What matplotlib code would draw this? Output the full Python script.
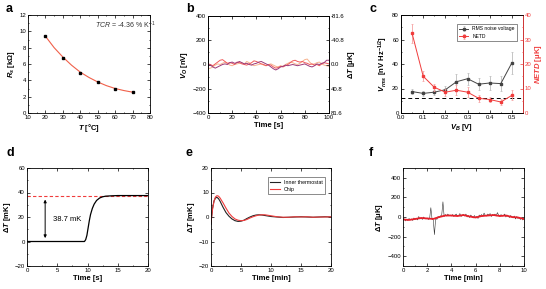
'''
six panel sensor characterisation figure
'''

import numpy as np
import matplotlib.pyplot as plt
from matplotlib.ticker import AutoMinorLocator

plt.rcParams['font.family'] = ['Liberation Sans', 'DejaVu Sans']
plt.rcParams['mathtext.fontset'] = 'custom'
plt.rcParams['mathtext.rm'] = 'Liberation Sans'
plt.rcParams['mathtext.it'] = 'Liberation Sans:italic'
plt.rcParams['mathtext.bf'] = 'Liberation Sans:bold'
plt.rcParams['mathtext.bfit'] = 'Liberation Sans:italic:bold'
plt.rcParams['axes.linewidth'] = 0.6

# a: sheet resistance vs temperature
temp_c = [20, 30, 40, 50, 60, 70]
r_s = [9.4, 6.75, 4.95, 3.8, 3.0, 2.55]
temp_fit = [20, 25, 30, 35, 40, 45, 50, 55, 60, 65, 70]
r_fit = [9.4, 8.0, 6.85, 5.85, 5.0, 4.35, 3.8, 3.35, 3.0, 2.75, 2.55]

# b: output voltage noise, three runs
time_b = np.arange(0, 101, 2)
vo_purple = [0, -5, -20, -30, -20, -10, 0, 5, 0, 15, 20, 10, 15, 25, 15, 5, 10, 0, -5, 5,
             10, 20, 25, 15, 5, -5, -20, -35, -45, -35, -20, -15, -5, -10, -5, 0, -5, -10,
             -5, 0, 5, -5, -15, -20, -10, 5, 0, 10, 15, 35, 35]
vo_red = [5, 0, -10, 5, 20, 35, 40, 25, 10, 15, 10, 0, 20, 15, 5, 0, -5, 5, 15, 30,
          25, 15, 5, 0, -10, 0, -5, -20, -30, -25, -15, -20, -10, 0, 15, 30, 35, 25,
          20, 25, 15, 10, 0, 5, -5, 0, -10, 5, 15, 10, 5]
vo_orange = [-35, -30, -20, -5, 5, 0, 10, 20, 10, -5, -10, 0, 5, 10, 15, 5, 25, 15, 0, -10,
             -5, 0, 5, -5, -10, 0, 5, -5, -15, -20, -10, -15, 0, 10, 20, 15, 5, 0,
             10, 25, 40, 45, 20, 0, 5, 15, 20, 5, -5, -10, -15]

# c: noise voltage and NETD vs bias
v_bias = [0.05, 0.1, 0.15, 0.2, 0.25, 0.3, 0.35, 0.4, 0.45, 0.5]
v_rms = [17.5, 16, 17, 19, 25.5, 28, 23.5, 24.5, 24, 41]
v_rms_err = [2, 2, 2, 3, 6, 5, 5, 6, 6, 9]
netd = [32.5, 15, 10.5, 8.5, 9.3, 8.5, 6, 5.5, 4.5, 7.2]
netd_err = [4, 2, 1.5, 1.5, 2, 2, 1.5, 1.2, 1.2, 2]
noise_floor = 12.5

# d: step response
time_d = [0, 9.5, 9.7, 9.9, 10.1, 10.3, 10.5, 10.8, 11.1, 11.5, 12, 12.5, 13, 14, 15, 20]
dt_d = [0, 0, 1.5, 5, 11, 17, 22, 27, 30.5, 33.5, 35.5, 36.5, 37, 37.3, 37.5, 37.5]
step_level = 37.5

# e: thermostat vs chip
time_e = [0, 0.1, 0.25, 0.5, 0.75, 1.0, 1.25, 1.5, 2, 2.5, 3, 3.5, 4, 4.5, 5, 5.5, 6, 6.5,
          7, 7.5, 8, 8.5, 9, 9.5, 10, 10.5, 11, 12, 13, 14, 15, 16, 17, 18, 19, 20]
dt_thermostat = [-3, 0, 3.5, 6.5, 7.8, 8.0, 7.5, 6.5, 4.0, 1.8, 0.3, -0.8, -1.5, -1.8, -1.7,
                 -1.3, -0.6, 0.0, 0.5, 0.8, 0.9, 0.8, 0.6, 0.4, 0.2, 0.1, 0.0, -0.2, -0.1,
                 0, 0.1, 0, -0.1, 0, 0.1, 0]
dt_chip = [-2, 0, 3, 6.5, 8.2, 8.7, 8.5, 7.8, 5.8, 3.6, 1.6, 0.2, -0.8, -1.3, -1.5, -1.4,
           -1.0, -0.4, 0.1, 0.5, 0.8, 0.9, 0.9, 0.7, 0.5, 0.3, 0.1, -0.1, -0.1, 0.1, 0,
           0.1, -0.1, 0, 0, 0.1]

# f: temperature stability
time_f = np.arange(0, 10.05, 0.1)
dt_raw = [-30, -20, -40, -25, -35, -15, -30, -20, -35, -10, -25,
          -15, -30, 5, -20, -10, -25, 0, -15, -20, -10,
          -25, -15, 95, -20, -30, -180, -10, -25, 5, -5,
          10, 20, 155, 5, 25, 10, 30, 15, 20, 10,
          25, 5, 20, 30, 10, 15, 35, 5, 20, 25,
          10, 30, 0, 15, -5, 20, 5, -10, 15, -5,
          5, -15, 20, 10, 25, 5, 40, 15, 10, 30,
          20, 35, 5, 25, 15, 30, 10, 45, 20, 5,
          25, 10, 15, 30, 0, 20, 10, -5, 15, 0,
          -10, 10, -20, 5, -15, -5, -25, -10, -30, -20]
time_f_smooth = np.arange(0, 10.05, 0.5)
dt_smooth = [-25, -30, -20, -10, -15, -20, 0, 15, 15, 10, 20, 5, -5, 10, 15, 20, 10, 15,
             0, -5, -20]

W, H = 546, 289
fig = plt.figure(figsize=(W / 100, H / 100), dpi=100)


def box(x0, x1, y0, y1):
    return fig.add_axes([x0 / W, 1 - y1 / H, (x1 - x0) / W, (y1 - y0) / H])


def style(ax, right=True):
    ax.xaxis.set_minor_locator(AutoMinorLocator(2))
    ax.yaxis.set_minor_locator(AutoMinorLocator(2))
    ax.tick_params(which='both', direction='in', top=True, right=right,
                   width=0.5, labelsize=4.3, pad=1.5)
    ax.tick_params(which='major', length=2)
    ax.tick_params(which='minor', length=1)


lab = dict(fontsize=5.5, fontweight='bold', labelpad=1.5)

for s, x, y in [('a', 6, 12), ('b', 186, 12), ('c', 369, 12),
                ('d', 6, 156), ('e', 186, 156), ('f', 369, 156)]:
    fig.text(x / W, 1 - y / H, s, fontsize=9, fontweight='bold')

# a
ax = box(28, 150, 15, 113)
ax.plot(temp_fit, r_fit, color='#f0604a', lw=0.8)
ax.plot(temp_c, r_s, 's', color='black', ms=1.8)
ax.set_xlim(10, 80)
ax.set_ylim(0, 12)
ax.set_xticks(range(10, 81, 10))
ax.set_yticks(range(0, 13, 2))
style(ax)
ax.set_xlabel(r'$\mathbfit{T}$ [°C]', **lab)
ax.set_ylabel(r'$\mathbfit{R_s}$ [kΩ]', **lab)
ax.text(0.55, 0.86, r'$TCR$ = -4.36 % K$^{-1}$', transform=ax.transAxes,
        fontsize=5, color='#333333')

# b
ax = box(208, 329, 16, 113)
ax.plot(time_b, vo_orange, color='#f7b38f', lw=0.7)
ax.plot(time_b, vo_red, color='#f05a5a', lw=0.7)
ax.plot(time_b, vo_purple, color='#9b3a7a', lw=0.7)
ax.set_xlim(0, 100)
ax.set_ylim(-400, 400)
ax.set_xticks(range(0, 101, 20))
ax.set_yticks(range(-400, 401, 200))
style(ax, right=False)
ax.set_xlabel('Time [s]', **lab)
ax.set_ylabel(r'$\mathbfit{V_O}$ [nV]', **lab)
ax2 = ax.twinx()
ax2.set_ylim(81.6, -81.6)
ax2.set_yticks([-81.6, -40.8, 0.0, 40.8, 81.6])
ax2.set_yticklabels(['-81.6', '-40.8', '0.0', '40.8', '81.6'])
ax2.yaxis.set_minor_locator(AutoMinorLocator(2))
ax2.tick_params(which='both', direction='in', width=0.5, labelsize=4.3, pad=1.5)
ax2.tick_params(which='major', length=2)
ax2.tick_params(which='minor', length=1)
ax2.set_ylabel('Δ$\\mathbfit{T}$ [μK]', fontsize=5.5, fontweight='bold', labelpad=1)

# c
ax = box(401, 523, 15, 113)
ax.axhline(noise_floor, color='black', ls=(0, (4, 3)), lw=0.7)
ax.errorbar(v_bias, v_rms, yerr=v_rms_err, color='#444444', ecolor='#bbbbbb',
            elinewidth=0.6, capsize=1, capthick=0.5, marker='s', ms=1.6, lw=0.7,
            label='RMS noise voltage')
ax.set_xlim(0, 0.55)
ax.set_ylim(0, 80)
ax.set_xticks(np.arange(0, 0.51, 0.1))
ax.set_xticklabels(['0.0', '0.1', '0.2', '0.3', '0.4', '0.5'])
ax.set_yticks(range(0, 81, 20))
style(ax, right=False)
ax.set_xlabel(r'$\mathbfit{V_B}$ [V]', **lab)
ax.set_ylabel(r'$\mathbfit{V_{rms}}$ [nV Hz$^{\mathbf{-1/2}}$]', **lab)
ax2 = ax.twinx()
ax2.errorbar(v_bias, netd, yerr=netd_err, color='#f03c3c', ecolor='#f5a0a0',
             elinewidth=0.6, capsize=1, capthick=0.5, marker='s', ms=1.6, lw=0.7,
             label='NETD')
ax2.set_ylim(0, 40)
ax2.set_yticks(range(0, 41, 10))
ax2.yaxis.set_minor_locator(AutoMinorLocator(2))
ax2.tick_params(which='both', direction='in', width=0.5, labelsize=4.3, pad=1,
                colors='#f03c3c')
ax2.tick_params(which='major', length=2)
ax2.tick_params(which='minor', length=1)
ax2.spines['right'].set_color('#f03c3c')
ax2.set_ylabel(r'$\mathbfit{NETD}$ [μK]', color='#f03c3c', fontsize=5.5,
               fontweight='bold', labelpad=1)
h1, l1 = ax.get_legend_handles_labels()
h2, l2 = ax2.get_legend_handles_labels()
leg = ax2.legend(h1 + h2, l1 + l2, loc='upper right', fontsize=3.6, frameon=True,
                 fancybox=False, edgecolor='black', borderpad=0.4, handlelength=1.8,
                 bbox_to_anchor=(0.97, 0.93))
leg.get_frame().set_linewidth(0.4)

# d
ax = box(27, 148, 168, 266)
ax.axhline(step_level, color='#f03c3c', ls=(0, (3, 2)), lw=0.8)
ax.plot(time_d, dt_d, color='black', lw=0.9)
ax.annotate('', xy=(3, 36.5), xytext=(3, 0.5),
            arrowprops=dict(arrowstyle='<|-|>', color='black', lw=0.7,
                            mutation_scale=4))
ax.text(4.3, 17, '38.7 mK', fontsize=5.5)
ax.set_xlim(0, 20)
ax.set_ylim(-20, 60)
ax.set_xticks(range(0, 21, 5))
ax.set_yticks(range(-20, 61, 20))
style(ax)
ax.set_xlabel('Time [s]', **lab)
ax.set_ylabel('Δ$\\mathbfit{T}$ [mK]', **lab)

# e
ax = box(211, 331, 168, 266)
ax.plot(time_e, dt_thermostat, color='#222222', lw=0.8, label='Inner thermostat')
ax.plot(time_e, dt_chip, color='#f03c3c', lw=0.8, label='Chip')
ax.set_xlim(0, 20)
ax.set_ylim(-20, 20)
ax.set_xticks(range(0, 21, 5))
ax.set_yticks(range(-20, 21, 10))
style(ax)
ax.set_xlabel('Time [min]', **lab)
ax.set_ylabel('Δ$\\mathbfit{T}$ [mK]', **lab)
leg = ax.legend(loc='upper right', fontsize=3.8, frameon=True, fancybox=False,
                edgecolor='black', borderpad=0.4, handlelength=1.8,
                bbox_to_anchor=(0.97, 0.93))
leg.get_frame().set_linewidth(0.4)

# f
ax = box(403, 524, 168, 266)
ax.plot(time_f, dt_raw, color='#333333', lw=0.4)
ax.plot(time_f_smooth, dt_smooth, color='#e8202a', lw=1.3)
ax.set_xlim(0, 10)
ax.set_ylim(-500, 500)
ax.set_xticks(range(0, 11, 2))
ax.set_yticks(range(-400, 401, 200))
style(ax)
ax.set_xlabel('Time [min]', **lab)
ax.set_ylabel('Δ$\\mathbfit{T}$ [μK]', **lab)

plt.savefig('out.png', dpi=100)
